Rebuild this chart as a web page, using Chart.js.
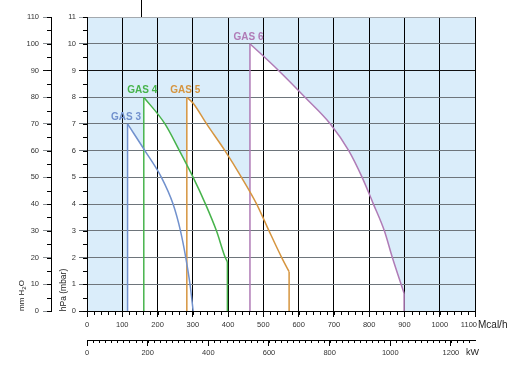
<!DOCTYPE html>
<html>
<head>
<meta charset="utf-8">
<script src="https://cdn.jsdelivr.net/npm/chart.js@4.4.1/dist/chart.umd.min.js"></script>
<style>
  html, body { margin: 0; padding: 0; background: #fff; }
  #wrap { width: 519px; height: 368px; }
</style>
</head>
<body>
<div id="wrap"><canvas id="chart" width="519" height="368"></canvas></div>
<script>
// Nhãn trục
const mcalTicks = [0, 100, 200, 300, 400, 500, 600, 700, 800, 900, 1000, 1100]; // Mcal/h
const kwTicks = [0, 200, 400, 600, 800, 1000, 1200]; // kW
const hpaTicks = [0, 1, 2, 3, 4, 5, 6, 7, 8, 9, 10, 11]; // hPa (mbar)
const mmTicks = [0, 10, 20, 30, 40, 50, 60, 70, 80, 90, 100, 110]; // mm H2O
const kwPerMcal = 1.163; // 1 Mcal/h = 1.163 kW

// Đường cong làm việc [Mcal/h, hPa]
const gasLabels = ["GAS 3", "GAS 4", "GAS 5", "GAS 6"];
const gas3 = [[115, 7], [164, 6], [211, 5], [244, 4], [265, 3], [280, 2], [292, 1], [301, 0]];
const gas4 = [[161, 8], [221, 7], [262, 6], [301, 5], [336, 4], [367, 3], [392, 2], [398, 1.84]];
const gas5 = [[283, 8], [301, 7.77], [339, 7], [391, 6], [438, 5], [481, 4], [516, 3], [552, 2], [573, 1.47]];
const gas6 = [[462, 10], [543, 9], [618, 8], [690, 7], [742, 6], [780, 5], [812, 4], [843, 3], [865, 2.03], [899, 0.66]];
const gasCurves = [gas3, gas4, gas5, gas6];

const gasColors = ["#7191cd", "#47b34b", "#d6953f", "#b07bb6"];
const skyBlue = "#daedfa";
const fontFamily = "'Liberation Sans', Arial, sans-serif";

// Vạch phụ cho từng trục
const minorSteps = {
  x: { step: 20, len: 4 },
  kw: { step: 20, len: 3 },
  y: { step: 0.5, len: 4 },
  mm: { step: 5, len: 4 },
};

// Tạo các dataset
const datasets = [];
gasCurves.forEach((curve, i) => {
  const pts = curve.map(([x, y]) => ({ x, y }));
  const first = pts[0];
  const last = pts[pts.length - 1];
  const common = { borderColor: gasColors[i], borderWidth: 1.5, pointRadius: 0 };
  datasets.push({
    ...common,
    label: gasLabels[i],
    data: pts,
    fill: "origin",
    backgroundColor: "#ffffff",
    cubicInterpolationMode: "monotone",
  });
  datasets.push({ ...common, data: [{ x: first.x, y: 0 }, first], fill: false });
  if (last.y > 0) {
    datasets.push({ ...common, data: [last, { x: last.x, y: 0 }], fill: false });
  }
});
// Nền xanh của vùng biểu đồ (vẽ đầu tiên)
datasets.push({
  data: [
    { x: mcalTicks[0], y: hpaTicks[hpaTicks.length - 1] },
    { x: mcalTicks[mcalTicks.length - 1], y: hpaTicks[hpaTicks.length - 1] },
  ],
  borderWidth: 0,
  pointRadius: 0,
  fill: "origin",
  backgroundColor: skyBlue,
});

const setTicks = (values) => (scale) => {
  scale.ticks = values.map((v) => ({ value: v }));
};

// Vẽ vạch phụ
const minorTickPlugin = {
  id: "minorTicks",
  afterDraw(chart) {
    const ctx = chart.ctx;
    ctx.save();
    ctx.strokeStyle = "#000";
    ctx.lineWidth = 1;
    ctx.beginPath();
    Object.keys(minorSteps).forEach((id) => {
      const s = chart.scales[id];
      const { step, len } = minorSteps[id];
      for (let v = s.min; v <= s.max + 1e-9; v += step) {
        const p = Math.round(s.getPixelForValue(v)) + 0.5;
        if (s.isHorizontal()) {
          ctx.moveTo(p, s.top);
          ctx.lineTo(p, s.top + len);
        } else {
          ctx.moveTo(s.right - len, p);
          ctx.lineTo(s.right, p);
        }
      }
    });
    ctx.stroke();
    ctx.restore();
  },
};

// Nhãn GAS, đơn vị và tiêu đề trục
const labelPlugin = {
  id: "labels",
  afterDraw(chart) {
    const { ctx, scales } = chart;
    const x = scales.x, y = scales.y, kw = scales.kw, mm = scales.mm;
    ctx.save();

    ctx.font = "bold 10px " + fontFamily;
    ctx.textAlign = "center";
    ctx.textBaseline = "alphabetic";
    gasCurves.forEach((curve, i) => {
      ctx.fillStyle = gasColors[i];
      ctx.fillText(gasLabels[i], x.getPixelForValue(curve[0][0]) - 1.5, y.getPixelForValue(curve[0][1]) - 4);
    });

    // nhãn cuối của trục Mcal/h, dính liền với đơn vị
    ctx.fillStyle = "#333";
    ctx.textBaseline = "middle";
    ctx.textAlign = "right";
    ctx.font = "7.5px " + fontFamily;
    const lastMcal = mcalTicks[mcalTicks.length - 1];
    ctx.fillText(String(lastMcal), x.getPixelForValue(lastMcal) + 2, x.top + 13.5);

    ctx.fillStyle = "#222";
    ctx.textAlign = "left";
    ctx.font = "10px " + fontFamily;
    ctx.fillText("Mcal/h", x.right + 3, x.top + 14);
    ctx.font = "9px " + fontFamily;
    ctx.fillText("kW", kw.right - 9, kw.top + 13);

    // mm H2O (xoay dọc)
    ctx.save();
    ctx.translate(mm.left + 24, mm.bottom);
    ctx.rotate(-Math.PI / 2);
    ctx.textBaseline = "alphabetic";
    ctx.font = "8px " + fontFamily;
    ctx.fillText("mm H", 0, 0);
    let w = ctx.measureText("mm H").width;
    ctx.font = "6px " + fontFamily;
    ctx.fillText("2", w, 2);
    w += ctx.measureText("2").width;
    ctx.font = "8px " + fontFamily;
    ctx.fillText("O", w, 0);
    ctx.restore();

    // hPa (mbar)
    ctx.save();
    ctx.translate(y.left + 14.5, y.bottom - 21);
    ctx.rotate(-Math.PI / 2);
    ctx.textAlign = "center";
    ctx.textBaseline = "alphabetic";
    ctx.font = "8.5px " + fontFamily;
    ctx.fillText("hPa (mbar)", 0, 0);
    ctx.restore();

    // vạch nhỏ phía trên
    ctx.strokeStyle = "#000";
    ctx.lineWidth = 1;
    ctx.beginPath();
    ctx.moveTo(141.5, 0);
    ctx.lineTo(141.5, y.top);
    ctx.stroke();

    ctx.restore();
  },
};

Chart.defaults.font.family = fontFamily;
Chart.defaults.font.size = 7.5;
Chart.defaults.color = "#333";

const tickFont = { size: 7.5 };

new Chart(document.getElementById("chart").getContext("2d"), {
  type: "line",
  data: { datasets },
  options: {
    responsive: false,
    animation: false,
    devicePixelRatio: 1,
    layout: { padding: { left: 0, top: 17, right: 44, bottom: 6 } },
    plugins: {
      legend: { display: false },
      tooltip: { enabled: false },
      filler: { drawTime: "beforeDraw" },
    },
    scales: {
      x: {
        type: "linear",
        position: "bottom",
        weight: 0,
        min: mcalTicks[0],
        max: mcalTicks[mcalTicks.length - 1],
        afterBuildTicks: setTicks(mcalTicks),
        afterFit: (s) => { s.height = 29; },
        grid: { color: "#000", tickLength: 6, tickColor: "#000" },
        border: { color: "#000" },
        ticks: {
          autoSkip: false,
          maxRotation: 0,
          padding: 3,
          font: tickFont,
          // nhãn 1100 được vẽ riêng cạnh "Mcal/h"
          callback: (v) => (v === mcalTicks[mcalTicks.length - 1] ? "" : String(v)),
        },
      },
      kw: {
        type: "linear",
        position: "bottom",
        weight: 1,
        min: 0,
        max: mcalTicks[mcalTicks.length - 1] * kwPerMcal,
        afterBuildTicks: setTicks(kwTicks),
        afterFit: (s) => { s.height = 22; },
        grid: { drawOnChartArea: false, color: "#000", tickLength: 6 },
        border: { color: "#000" },
        ticks: { autoSkip: false, maxRotation: 0, padding: 2, font: tickFont, callback: (v) => String(v) },
      },
      y: {
        type: "linear",
        position: "left",
        weight: 0,
        min: hpaTicks[0],
        max: hpaTicks[hpaTicks.length - 1],
        afterBuildTicks: setTicks(hpaTicks),
        afterFit: (s) => { s.width = 36; },
        grid: {
          tickLength: 8,
          color: (c) => {
            const v = c.tick ? c.tick.value : null;
            if (v === 9 || v === 0) return "#111";
            if (v === 11) return "#a3a9ae";
            return "#6e757b";
          },
        },
        border: { color: "#000" },
        ticks: { autoSkip: false, padding: 3, font: tickFont, callback: (v) => String(v) },
      },
      mm: {
        type: "linear",
        position: "left",
        weight: 1,
        min: mmTicks[0],
        max: mmTicks[mmTicks.length - 1],
        afterBuildTicks: setTicks(mmTicks),
        afterFit: (s) => { s.width = 51; },
        grid: {
          drawOnChartArea: false,
          tickLength: 8,
          color: (c) => (c.tick && c.tick.value === 90 ? "#111" : "#8a8f93"),
        },
        border: { color: "#000" },
        ticks: { autoSkip: false, padding: 4, font: tickFont, callback: (v) => String(v) },
      },
    },
  },
  plugins: [minorTickPlugin, labelPlugin],
});
</script>
</body>
</html>
